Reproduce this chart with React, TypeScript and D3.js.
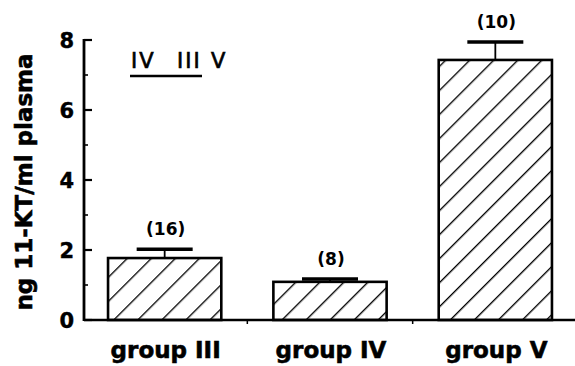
import React from "react";
import * as d3 from "d3";

const categories = ["group III", "group IV", "group V"];
const means = [1.77, 1.09, 7.43];
const errTops = [2.02, 1.17, 7.94];
const nLabels = ["(16)", "(8)", "(10)"];
const yTicks = [0, 2, 4, 6, 8];
const yMinorTicks = [1, 3, 5, 7];
const legendWords = ["IV", "III", "V"];

const W = 575;
const H = 366;

export default function App() {
  const y = d3.scaleLinear().domain([0, 8]).range([320, 40]);
  const x = d3
    .scaleBand<string>()
    .domain(categories)
    .range([82, 578])
    .paddingInner(0.315)
    .paddingOuter(0.1575);
  const bw = x.bandwidth();
  const axisX = 84;
  const font = "'DejaVu Sans', sans-serif";
  const step = x.step();
  const betweens = categories.slice(1).map((c) => (x(c) as number) - (step - bw) / 2);
  const legendX = [131, 177, 211];

  return (
    <svg
      width={W}
      height={H}
      style={{ position: "absolute", left: 0, top: 0, background: "#fff" }}
    >
      <defs>
        <pattern
          id="hatch"
          patternUnits="userSpaceOnUse"
          width={17}
          height={17}
          patternTransform="rotate(45)"
        >
          <line x1={0} y1={0} x2={0} y2={17} stroke="#000" strokeWidth={2.7} />
        </pattern>
      </defs>
      <rect width={W} height={H} fill="#fff" />

      {/* bars */}
      {categories.map((c, i) => {
        const x0 = x(c) as number;
        return (
          <g key={c}>
            <rect
              x={x0}
              y={y(means[i])}
              width={bw}
              height={y(0) - y(means[i])}
              fill="url(#hatch)"
              stroke="#000"
              strokeWidth={2.6}
            />
            <line
              x1={x0 + bw / 2}
              x2={x0 + bw / 2}
              y1={y(means[i])}
              y2={y(errTops[i])}
              stroke="#000"
              strokeWidth={1.8}
            />
            <line
              x1={x0 + bw / 2 - 28}
              x2={x0 + bw / 2 + 28}
              y1={y(errTops[i])}
              y2={y(errTops[i])}
              stroke="#000"
              strokeWidth={3.5}
            />
            <text
              x={x0 + bw / 2 + 1}
              y={y(errTops[i]) - 14}
              textAnchor="middle"
              fontFamily={font}
              fontWeight="bold"
              fontSize={17}
            >
              {nLabels[i]}
            </text>
            <text
              x={x0 + bw / 2 + 1}
              y={358}
              textAnchor="middle"
              fontFamily={font}
              fontWeight="bold"
              fontSize={23}
              stroke="#000"
              strokeWidth={0.6}
            >
              {c}
            </text>
          </g>
        );
      })}

      {/* x axis */}
      <line x1={axisX} x2={W} y1={y(0)} y2={y(0)} stroke="#000" strokeWidth={2.6} />
      {betweens.map((bx, i) => (
        <line key={i} x1={bx} x2={bx} y1={y(0)} y2={y(0) + 4} stroke="#000" strokeWidth={1.5} />
      ))}

      {/* y axis */}
      <line x1={axisX} x2={axisX} y1={y(0) + 1} y2={y(8) - 1} stroke="#000" strokeWidth={2.8} />
      {yTicks.map((t) => (
        <g key={t}>
          <line x1={axisX} x2={axisX + 8} y1={y(t)} y2={y(t)} stroke="#000" strokeWidth={2.2} />
          <text
            x={axisX - 10}
            y={y(t)}
            dy="0.36em"
            textAnchor="end"
            fontFamily={font}
            fontWeight="bold"
            fontSize={21}
            stroke="#000"
            strokeWidth={0.4}
          >
            {t}
          </text>
        </g>
      ))}
      {yMinorTicks.map((t) => (
        <line key={t} x1={axisX} x2={axisX + 4} y1={y(t)} y2={y(t)} stroke="#000" strokeWidth={1.6} />
      ))}

      {/* y label */}
      <text
        transform={`translate(32,182) rotate(-90)`}
        textAnchor="middle"
        fontFamily={font}
        fontWeight="bold"
        fontSize={23}
        stroke="#000"
        strokeWidth={0.6}
      >
        ng 11-KT/ml plasma
      </text>

      {/* significance legend */}
      {legendWords.map((w, i) => (
        <text
          key={w}
          x={legendX[i]}
          y={68}
          fontFamily={font}
          fontSize={21}
          letterSpacing={2}
          stroke="#000"
          strokeWidth={0.7}
        >
          {w}
        </text>
      ))}
      <line x1={130} x2={202} y1={76} y2={76} stroke="#000" strokeWidth={2.5} />
    </svg>
  );
}
